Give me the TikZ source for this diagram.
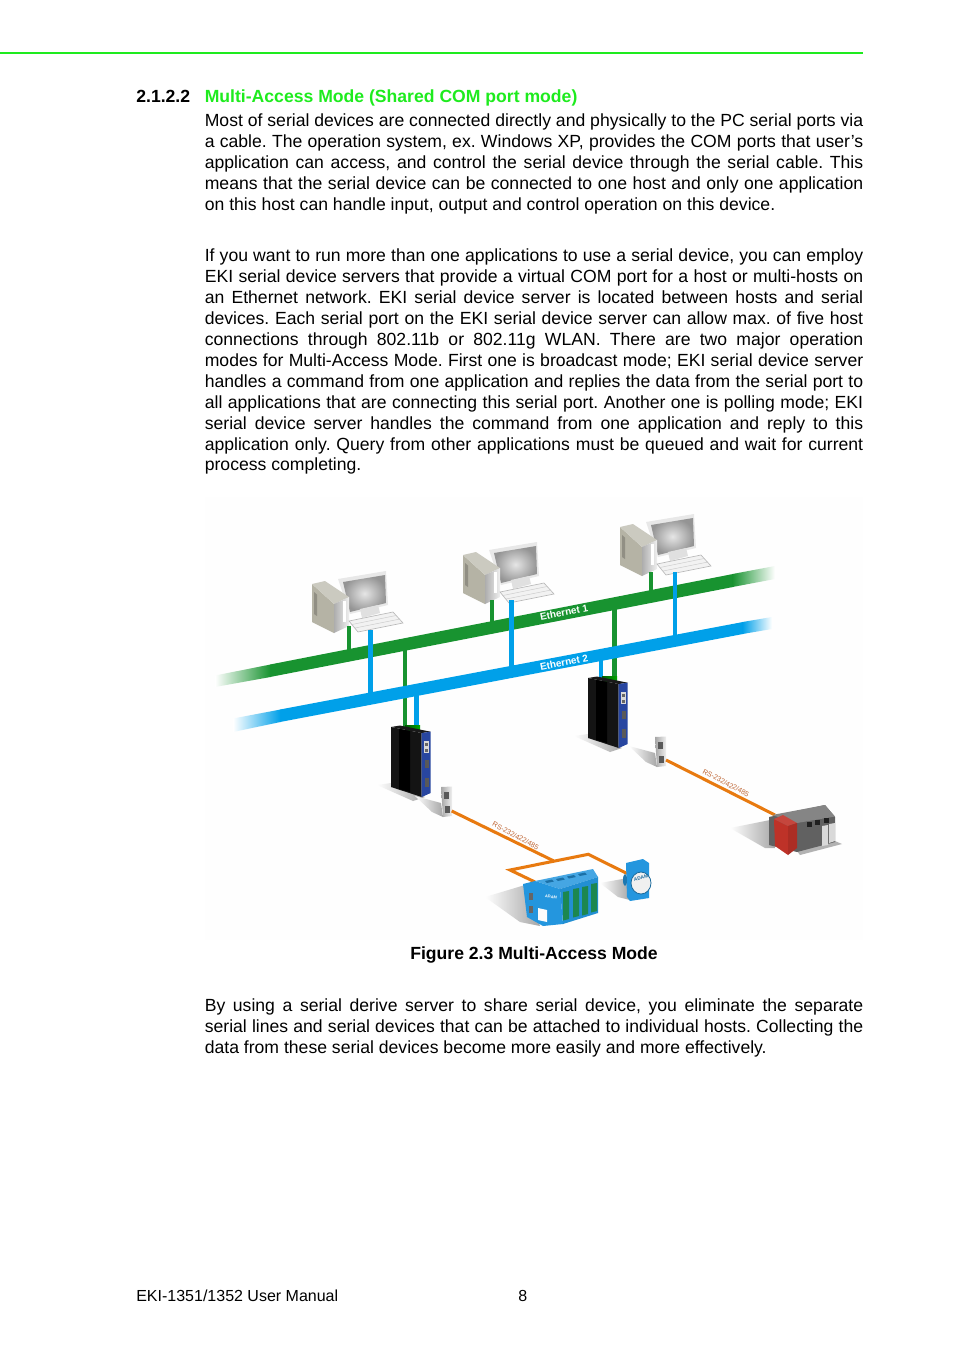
\documentclass[tikz,border=0pt]{standalone}
\usepackage{fontspec}
\setmainfont{Liberation Sans}
\usepackage{tikz}
\frenchspacing

\definecolor{headgreen}{RGB}{30,235,30}
\definecolor{busgreen}{RGB}{24,147,48}
\definecolor{busblue}{RGB}{0,160,233}
\definecolor{serialorange}{RGB}{232,122,16}
\definecolor{labelbrown}{RGB}{190,100,50}
\definecolor{modblue}{RGB}{36,150,222}
\definecolor{slotgreen}{RGB}{28,135,80}
\definecolor{swblue}{RGB}{40,70,160}
\definecolor{towergray}{RGB}{181,179,165}
\definecolor{plcred}{RGB}{190,50,40}

\tikzset{
  bodytext/.style={anchor=north west,inner sep=0pt,text width=411.5pt,align=justify,
    font=\fontsize{11}{13.12}\selectfont},
  plaintext/.style={anchor=base west,inner sep=0pt,font=\fontsize{10}{12}\selectfont},
  boldtext/.style={anchor=base west,inner sep=0pt,font=\fontsize{11}{13.1}\selectfont\bfseries},
  buslabel/.style={inner sep=0pt,text=white,font=\fontsize{6.2}{7}\selectfont\bfseries},
  seriallabel/.style={inner sep=0pt,text=labelbrown,font=\fontsize{4.4}{5}\selectfont},
  greendrop/.style={draw=busgreen,line width=3pt},
  bluedrop/.style={draw=busblue,line width=3pt},
  serial/.style={draw=serialorange,line width=1.9pt,line join=miter},
  shadow/.style={left color=white,right color=black!35,draw=none},
  pics/pcunit/.style={code={
    % monitor
    \fill[black!9] (338,579) -- (386,571) -- (388,605) -- (350,614) -- cycle;
    \shade[inner color=black!10,outer color=black!42] (343,582) -- (385,575) -- (386,603) -- (350,612) -- cycle;
    \fill[black!12] (360,609) -- (378,605) -- (380,613) -- (362,618) -- cycle;
    % tower
    \fill[towergray] (312,584) -- (334,604) -- (334,633) -- (312,622) -- cycle;
    \fill[towergray!70!white] (312,584) -- (325,581) -- (349,597) -- (334,604) -- cycle;
    \shade[left color=black!32,right color=black!6] (334,604) -- (349,597) -- (349,626) -- (334,633) -- cycle;
    \fill[white] (343,601) rectangle (346,622);
    \fill[towergray!80!black] (314,592) -- (317,594.5) -- (317,616) -- (314,614) -- cycle;
    % keyboard
    \filldraw[fill=black!5,draw=black!28,line width=0.4pt] (349,621) -- (393,612) -- (403,623) -- (358,632) -- cycle;
    \draw[black!20,line width=0.3pt] (352,624.5) -- (396,615.5) (355,628) -- (400,619);
  }},
  pics/switchunit/.style={code={
    \shade[shadow] (377,785) -- (391,783) -- (425,797) -- (413,801) -- cycle;
    % din clip
    \shade[left color=green!35!black,right color=green!65!black] (405,725) rectangle (420,730);
    % case
    \fill[black!90] (391,727) -- (400,725.5) -- (430.7,731.7) -- (421.7,733) -- cycle;
    \fill[black!92] (391,727) -- (421.7,733) -- (421.7,797) -- (391,787) -- cycle;
    \fill[black] (399,729) -- (410,731) -- (410,792) -- (399,789) -- cycle;
    \fill[swblue] (421.7,733) -- (430.7,731.7) -- (430.7,793) -- (421.7,797) -- cycle;
    % ports
    \fill[black!15] (424,741) rectangle (429,753);
    \fill[black!60] (425,743) rectangle (428,746);
    \fill[black!60] (425,749) rectangle (428,752);
    \fill[black!65] (425,760) rectangle (429,768);
    \fill[black!65] (425,778) rectangle (429,787);
  }},
  pics/adapterunit/.style={code={
    \shade[left color=white,right color=black!35] (415,796) -- (441,803) -- (443,817) -- (432,812) -- cycle;
    \shade[left color=black!35,right color=black!6] (441,787) -- (452,786.5) -- (452,816) -- (443,817) -- cycle;
    \fill[black!65] (444,792) rectangle (449,799);
    \fill[black!65] (445,806) rectangle (450,813);
  }}
}

\begin{document}
\begin{tikzpicture}[x=0.625pt,y=-0.625pt]
\useasboundingbox (0,0) rectangle (954,1350);

% Header
\coordinate (ruleL) at (0,53);
\coordinate (ruleR) at (863,53);
\draw[headgreen,line width=1.3pt] (ruleL) -- (ruleR);
\node[boldtext] (secnum) at (136,102) {2.1.2.2};
\node[boldtext,text=headgreen] (sectitle) at (204.5,102) {Multi-Access Mode (Shared COM port mode)};

% Paragraphs
\node[bodytext] (para1) at (204.5,113) {Most of serial devices are connected directly and physically to the PC serial ports via\linebreak
a cable. The operation system, ex. Windows XP, provides the COM ports that user’s\linebreak
application can access, and control the serial device through the serial cable. This\linebreak
means that the serial device can be connected to one host and only one application\linebreak
on this host can handle input, output and control operation on this device.};

\node[bodytext] (para2) at (204.5,248) {If you want to run more than one applications to use a serial device, you can employ\linebreak
EKI serial device servers that provide a virtual COM port for a host or multi-hosts on\linebreak
an Ethernet network. EKI serial device server is located between hosts and serial\linebreak
devices. Each serial port on the EKI serial device server can allow max. of five host\linebreak
connections through 802.11b or 802.11g WLAN. There are two major operation\linebreak
modes for Multi-Access Mode. First one is broadcast mode; EKI serial device server\linebreak
handles a command from one application and replies the data from the serial port to\linebreak
all applications that are connecting this serial port. Another one is polling mode; EKI\linebreak
serial device server handles the command from one application and reply to this\linebreak
application only. Query from other applications must be queued and wait for current\linebreak
process completing.};

% Figure background
\fill[black!0.4] (205,497) rectangle (863,940);

% Shadows of the devices
\shade[shadow] (485,897) -- (525,885) -- (540,926) -- (520,922) -- cycle;
\shade[shadow] (600,883) -- (628,878) -- (630,900) -- (618,897) -- cycle;
\shade[shadow] (730,828) -- (770,820) -- (775,848) -- (765,848) -- cycle;
\fill[black!30] (797,851) -- (835,841) -- (842,844) -- (800,855) -- cycle;

% Computers
\pic (pcA) at (0,0) {pcunit};
\pic (pcB) at (151,-29) {pcunit};
\pic (pcC) at (308,-57) {pcunit};

% Drop points
\coordinate (pcAg) at (349,626);
\coordinate (pcAb) at (370.5,630);
\coordinate (pcBg) at (492,600);
\coordinate (pcBb) at (511.5,600);
\coordinate (pcCg) at (651,572);
\coordinate (pcCb) at (675,572);
\coordinate (busAg) at (349,652);
\coordinate (busAb) at (370.5,698);
\coordinate (busBg) at (492,626);
\coordinate (busBb) at (511.5,671);
\coordinate (busCg) at (651,594);
\coordinate (busCb) at (675,638);
\coordinate (swAgtop) at (405,648);
\coordinate (swAg) at (405,727);
\coordinate (swAbtop) at (416.5,690);
\coordinate (swAb) at (416.5,727);
\coordinate (swBgtop) at (614.5,608);
\coordinate (swBg) at (614.5,678);
\coordinate (swBbtop) at (601,655);
\coordinate (swBb) at (601,678);

% Green drops under the blue bus
\path[greendrop] (swAgtop) edge (swAg);
\path[greendrop] (swBgtop) edge (swBg);
\path[greendrop] (pcAg) edge (busAg);
\path[greendrop] (pcBg) edge (busBg);
\path[greendrop] (pcCg) edge (busCg);

% Ethernet 1
\fill[busgreen] (270,664.5) -- (733,574) -- (733,587) -- (270,677) -- cycle;
\shade[left color=white,right color=busgreen] (215,675.5) -- (270.5,664.5) -- (270.5,677) -- (215,687) -- cycle;
\shade[left color=busgreen,right color=white] (732.5,574) -- (775,566) -- (775,579) -- (732.5,587) -- cycle;

% Ethernet 2
\fill[busblue] (280,709.5) -- (743,622) -- (743,634) -- (280,722) -- cycle;
\shade[left color=white,right color=busblue] (233,718.5) -- (280.5,709.5) -- (280.5,722) -- (233,732) -- cycle;
\shade[left color=busblue,right color=white] (742.5,622) -- (772,617) -- (772,629) -- (742.5,634) -- cycle;

% Blue drops
\path[bluedrop] (pcAb) edge (busAb);
\path[bluedrop] (pcBb) edge (busBb);
\path[bluedrop] (pcCb) edge (busCb);
\path[bluedrop] (swAbtop) edge (swAb);
\path[bluedrop] (swBbtop) edge (swBb);

% Bus labels
\node[buslabel,rotate=11] (eth1) at (564,612.5) {Ethernet 1};
\node[buslabel,rotate=11] (eth2) at (564,662.5) {Ethernet 2};

% Device servers
\pic (swA) at (0,0) {switchunit};
\pic (swB) at (197,-49) {switchunit};
\pic (adA) at (0,0) {adapterunit};
\pic (adB) at (214,-50) {adapterunit};

% Serial lines
\coordinate (adAout) at (451.7,811);
\coordinate (adBout) at (666,760);
\coordinate (tapA) at (553.3,860.7);
\coordinate (cornerL) at (510,870);
\coordinate (cornerR) at (588.3,854.3);
\coordinate (modin) at (535,882);
\coordinate (adamin) at (627,873.5);
\coordinate (plcin) at (775,815);
\draw[serial] (adAout) -- (tapA);
\draw[serial] (modin) -- (cornerL) -- (cornerR) -- (adamin);
\draw[serial] (adBout) -- (plcin);
\node[seriallabel,rotate=-28] (rsA) at (515.7,835.7) {RS-232/422/485};
\node[seriallabel,rotate=-28] (rsB) at (726,783) {RS-232/422/485};

% I/O module
\fill[modblue!85!white] (535,881) -- (593,869) -- (598,877) -- (560,889) -- cycle;
\foreach \tx/\ty in {545/881,556/879,567/876.5,578/874}
  \fill[modblue!75!black] (\tx,\ty) -- ++(7,-1.5) -- ++(2,2) -- ++(-7,1.5) -- cycle;
\fill[modblue] (523,884) -- (535,881) -- (560,889) -- (563,924) -- (543,926) -- (527,917) -- cycle;
\fill[modblue!95!black] (560,889) -- (598,877) -- (598,913) -- (563,924) -- cycle;
\foreach \sx/\sy in {563/892,573/889,582/887,591/884}
  \fill[slotgreen] (\sx,\sy) -- ++(6,-1) -- ++(0,28) -- ++(-6,1.5) -- cycle;
\fill[black!1] (538,908) -- (547,910) -- (547,922) -- (538,920) -- cycle;
\fill[black!60] (529,893) rectangle (533,900);
\fill[black!60] (529,906) rectangle (533,913);
\node[inner sep=0pt,text=white,font=\fontsize{2.5}{3}\selectfont\bfseries,rotate=-10] (modlogo) at (551,897) {ADAM};

% ADAM module
\fill[modblue] (626,863) -- (643,859) -- (649,863) -- (649,898) -- (630,901) -- (627,897) -- cycle;
\fill[modblue!80!black] (625,880) ellipse (2 and 6);
\filldraw[fill=black!6,draw=modblue!70!black,line width=0.5pt] (641,883) ellipse (10 and 11);
\node[inner sep=0pt,text=modblue!70!black,font=\fontsize{3}{4}\selectfont\bfseries,rotate=15] (adamlogo) at (641,878) {ADAM};

% PLC
\fill[black!62] (769,817) -- (825,805) -- (835,817) -- (835,842) -- (797,852) -- (769,845) -- cycle;
\fill[black!48] (772,815) -- (825,805) -- (835,816.5) -- (797,823) -- cycle;
\fill[black!88] (807,822) rectangle (812,827);
\fill[black!88] (815,820) rectangle (820,825);
\fill[black!88] (824,818) rectangle (829,823);
\fill[black!15] (822,826) -- (828,825) -- (828,845) -- (822,846) -- cycle;
\fill[black!15] (829,824) -- (835,823) -- (835,841) -- (829,843) -- cycle;
\fill[plcred] (774,819) -- (788,826) -- (788,855) -- (775,846) -- cycle;
\fill[plcred!90!white] (774,819) -- (783,815) -- (797,823) -- (788,826) -- cycle;
\fill[plcred!90!black] (788,826) -- (797,823) -- (797,848) -- (788,855) -- cycle;

% Caption and last paragraph
\node[boldtext,anchor=base] (caption) at (534,959) {Figure 2.3 Multi-Access Mode};
\node[bodytext] (para3) at (204.5,998) {By using a serial derive server to share serial device, you eliminate the separate\linebreak
serial lines and serial devices that can be attached to individual hosts. Collecting the\linebreak
data from these serial devices become more easily and more effectively.};

% Footer
\node[plaintext] (manual) at (136,1301) {EKI-1351/1352 User Manual};
\node[plaintext] (pageno) at (518,1301) {8};

\end{tikzpicture}
\end{document}
